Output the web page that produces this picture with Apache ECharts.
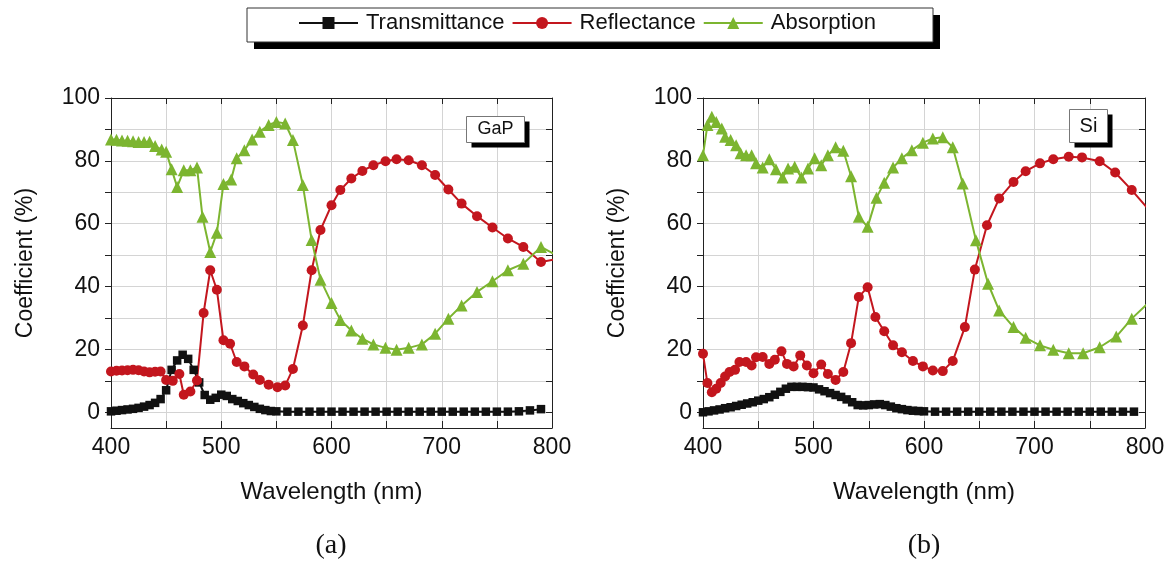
<!DOCTYPE html>
<html>
<head>
<meta charset="utf-8">
<script src="https://cdn.jsdelivr.net/npm/echarts@6/dist/echarts.min.js"></script>
<style>
  html, body { margin: 0; padding: 0; background: #fff; }
  #chart { width: 1172px; height: 565px; }
</style>
</head>
<body>
<div id="chart"></div>
<script>
// GaP (a)
const gapTransX = [400,405,410,415,420,425,430,435,440,445,450,455,460,465,470,475,480,485,490,495,500,505,510,515,520,525,530,535,540,545,550,560,570,580,590,600,610,620,630,640,650,660,670,680,690,700,710,720,730,740,750,760,770,780,790];
const gapTransY = [0.3,0.5,0.7,0.9,1.1,1.4,1.8,2.3,3.0,4.2,7.0,13.5,16.5,18.3,17.0,13.5,9.5,5.5,4.0,4.6,5.6,5.2,4.2,3.6,2.9,2.3,1.7,1.1,0.7,0.4,0.3,0.2,0.2,0.2,0.2,0.2,0.2,0.2,0.2,0.2,0.2,0.2,0.2,0.2,0.2,0.2,0.2,0.2,0.2,0.2,0.2,0.2,0.3,0.6,1.0];
const gapReflX = [400,405,410,415,420,425,430,435,440,445,450,456,462,466,472,478,484,490,496,502,508,514,521,529,535,543,551,558,565,574,582,590,600,608,618,628,638,649,659,670,682,694,706,718,732,746,760,774,790,805];
const gapReflY = [13.0,13.2,13.3,13.4,13.5,13.4,13.0,12.7,12.9,13.0,10.3,10.0,12.2,5.6,6.6,10.1,31.6,45.2,39.0,22.9,21.8,16.0,14.6,12.0,10.3,8.8,8.0,8.5,13.8,27.6,45.2,58.0,65.9,70.7,74.4,76.8,78.6,79.9,80.5,80.2,78.6,75.5,70.9,66.4,62.4,58.8,55.3,52.6,47.8,48.8];
const gapAbsX = [400,405,410,415,420,425,430,435,440,446,450,455,460,466,472,478,483,490,496,502,509,514,521,528,535,543,550,558,565,574,582,590,600,608,618,628,638,649,659,670,682,694,706,718,732,746,760,774,790,805];
const gapAbsY = [86.8,86.7,86.5,86.4,86.2,86.0,86.0,86.1,84.7,83.6,82.9,77.3,71.7,77.0,77.0,77.9,62.2,51.0,57.1,72.6,74.1,80.8,83.4,86.8,89.3,91.4,92.4,91.9,86.6,72.3,54.8,42.2,34.8,29.4,26.0,23.4,21.6,20.5,19.9,20.5,21.6,25.0,29.8,34.0,38.3,41.7,45.2,47.3,52.6,49.8];

// Si (b)
const siTransX = [400,405,410,415,420,425,430,435,440,445,450,455,460,465,470,475,480,485,490,495,500,505,510,515,520,525,530,535,540,545,550,555,560,565,570,575,580,585,590,595,600,610,620,630,640,650,660,670,680,690,700,710,720,730,740,750,760,770,780,790];
const siTransY = [0.0,0.3,0.6,0.9,1.3,1.6,2.0,2.4,2.8,3.2,3.7,4.2,4.8,5.6,6.5,7.5,8.1,8.1,8.1,8.0,7.9,7.3,6.7,6.1,5.5,4.9,4.1,3.2,2.3,2.2,2.3,2.5,2.6,2.3,1.8,1.3,1.0,0.7,0.5,0.4,0.3,0.2,0.2,0.2,0.2,0.2,0.2,0.2,0.2,0.2,0.2,0.2,0.2,0.2,0.2,0.2,0.2,0.2,0.2,0.2];
const siReflX = [400,404,408,412,416,420,424,429,433,439,444,448,454,460,465,471,476,482,488,494,500,507,513,520,527,534,541,549,556,564,572,580,590,599,608,617,626,637,646,657,668,681,692,705,717,731,743,759,773,788,805];
const siReflY = [18.6,9.3,6.4,7.5,9.3,11.4,12.8,13.5,16.0,16.0,14.9,17.5,17.6,15.4,16.7,19.4,15.4,14.6,18.1,14.9,12.4,15.2,12.2,10.3,12.8,22.0,36.7,39.8,30.3,25.8,21.3,19.1,16.3,14.6,13.3,13.1,16.3,27.1,45.4,59.5,68.0,73.3,76.7,79.2,80.5,81.3,81.1,79.9,76.3,70.7,63.8];
const siAbsX = [400,404,408,412,417,420,425,430,434,439,444,448,454,460,466,472,477,483,489,495,501,507,513,520,527,534,541,549,557,564,572,580,589,599,608,617,626,635,647,658,668,681,692,705,717,731,744,759,774,788,805];
const siAbsY = [81.8,91.4,94.0,92.4,90.3,87.7,86.6,85.0,82.4,81.8,81.8,79.2,77.9,80.5,77.3,74.7,77.6,78.1,74.7,77.6,80.8,78.6,81.8,84.3,83.2,75.1,62.2,59.0,68.3,73.0,77.9,80.8,83.4,85.8,87.1,87.5,84.3,72.8,54.7,40.9,32.4,27.1,23.7,21.3,19.9,18.8,18.8,20.7,24.1,29.8,35.5];

const xTicks = [400,450,500,550,600,650,700,750,800];
const xLabels = [400,500,600,700,800];
const yTicks = [0,10,20,30,40,50,60,70,80,90,100];
const yLabels = [0,20,40,60,80,100];

const seriesNames = ["Transmittance", "Reflectance", "Absorption"];
const colors = ["#111111", "#c3161e", "#7cb530"];
const symbols = ["rect", "circle", "triangle"];
const symbolSizes = [8.5, 10, 12];

function zip(xs, ys) { return xs.map((x, i) => [x, ys[i]]); }

const font = "Liberation Sans, Arial, sans-serif";
const gridColor = "#d4d4d4";

function xAxes(gi) {
  return [
    {
      type: "value", gridIndex: gi, position: "bottom", min: 400, max: 800,
      name: "Wavelength (nm)", nameLocation: "middle", nameGap: 52,
      nameTextStyle: {fontSize: 24, color: "#111", fontFamily: font},
      axisLine: {show: true, onZero: false, lineStyle: {color: "#222", width: 1}},
      axisTick: {show: true, inside: true, length: 7, customValues: xTicks, lineStyle: {color: "#222"}},
      axisLabel: {show: true, customValues: xLabels, margin: 8, fontSize: 23, color: "#111", fontFamily: font},
      splitLine: {show: true, lineStyle: {color: gridColor, width: 1}}
    },
    {
      type: "value", gridIndex: gi, position: "top", min: 400, max: 800,
      axisLine: {show: true, onZero: false, lineStyle: {color: "#222", width: 1}},
      axisTick: {show: true, inside: true, length: 6, customValues: xTicks, lineStyle: {color: "#222"}},
      axisLabel: {show: false},
      splitLine: {show: false}
    }
  ];
}

function yAxes(gi) {
  return [
    {
      type: "value", gridIndex: gi, position: "left", min: -5, max: 100,
      name: "Coefficient (%)", nameLocation: "middle", nameGap: 74, nameRotate: 90,
      nameTextStyle: {fontSize: 23, color: "#111", fontFamily: font},
      axisLine: {show: true, onZero: false, lineStyle: {color: "#222", width: 1}},
      axisTick: {show: true, inside: false, length: 6, customValues: yTicks, lineStyle: {color: "#222"}},
      axisLabel: {show: true, customValues: yLabels, margin: 11, fontSize: 23, color: "#111", fontFamily: font},
      splitLine: {show: true, lineStyle: {color: gridColor, width: 1}}
    },
    {
      type: "value", gridIndex: gi, position: "right", min: -5, max: 100,
      axisLine: {show: true, onZero: false, lineStyle: {color: "#222", width: 1}},
      axisTick: {show: true, inside: true, length: 6, customValues: yTicks, lineStyle: {color: "#222"}},
      axisLabel: {show: false},
      splitLine: {show: false}
    }
  ];
}

const panels = [
  [zip(gapTransX, gapTransY), zip(gapReflX, gapReflY), zip(gapAbsX, gapAbsY)],
  [zip(siTransX, siTransY), zip(siReflX, siReflY), zip(siAbsX, siAbsY)]
];

const series = [];
panels.forEach((sets, gi) => {
  sets.forEach((data, si) => {
    series.push({
      name: seriesNames[si],
      type: "line",
      xAxisIndex: gi * 2,
      yAxisIndex: gi * 2,
      data: data,
      symbol: symbols[si],
      symbolSize: symbolSizes[si],
      showAllSymbol: true,
      clip: true,
      lineStyle: {color: colors[si], width: 2},
      itemStyle: {color: colors[si]},
      emphasis: {disabled: true}
    });
  });
});

// 标签框（带阴影）
function tagBox(x, y, w, h, text, size) {
  return [
    {type: "rect", z: 20, shape: {x: x + 5, y: y + 5, width: w, height: h}, style: {fill: "#000"}},
    {type: "rect", z: 21, shape: {x: x, y: y, width: w, height: h}, style: {fill: "#fff", stroke: "#777", lineWidth: 1}},
    {type: "text", z: 22, x: x + w / 2, y: y + h / 2, style: {text: text, fontSize: size, fontFamily: font, fill: "#111", align: "center", verticalAlign: "middle"}}
  ];
}

const chart = echarts.init(document.getElementById("chart"), null, {renderer: "canvas"});
chart.setOption({
  animation: false,
  backgroundColor: "#fff",
  grid: [
    {left: 111, top: 98, width: 441, height: 330},
    {left: 703, top: 98, width: 442, height: 330}
  ],
  xAxis: xAxes(0).concat(xAxes(1)),
  yAxis: yAxes(0).concat(yAxes(1)),
  legend: {
    data: seriesNames,
    left: 298, top: 12,
    padding: 0,
    itemWidth: 59, itemHeight: 15, itemGap: 7,
    selectedMode: false,
    textStyle: {fontSize: 22, color: "#111", fontFamily: font, padding: [0, 0, 0, 3]},
    z: 10
  },
  graphic: [
    {type: "rect", z: 1, shape: {x: 254, y: 15, width: 686, height: 34}, style: {fill: "#000"}},
    {type: "rect", z: 1, shape: {x: 247, y: 8, width: 686, height: 34}, style: {fill: "#fff", stroke: "#333", lineWidth: 1}}
  ].concat(tagBox(466.5, 116.5, 58, 26, "GaP", 18), tagBox(1069.5, 109.5, 38, 33, "Si", 20), [
    {type: "text", z: 5, x: 331, y: 546, style: {text: "(a)", fontSize: 28, fontFamily: "Liberation Serif, Times New Roman, serif", fill: "#111", align: "center", verticalAlign: "middle"}},
    {type: "text", z: 5, x: 924, y: 546, style: {text: "(b)", fontSize: 28, fontFamily: "Liberation Serif, Times New Roman, serif", fill: "#111", align: "center", verticalAlign: "middle"}}
  ]),
  series: series
});
</script>
</body>
</html>
